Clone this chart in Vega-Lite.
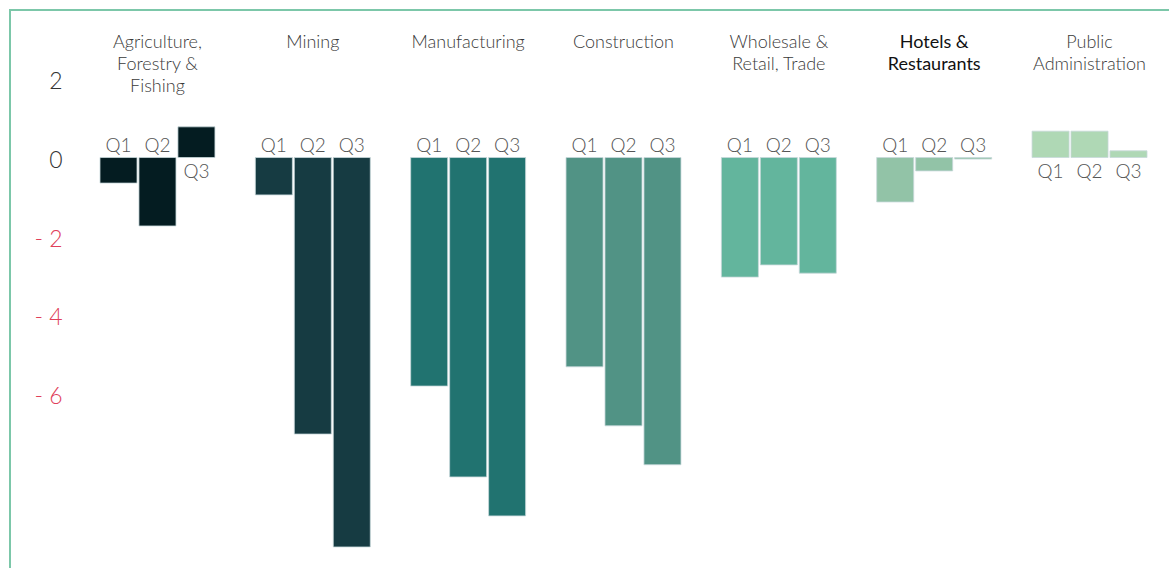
{
  "$schema": "https://vega.github.io/schema/vega-lite/v6.json",
  "width": 1160,
  "height": 559,
  "autosize": {"type": "none"},
  "padding": {"left": 10, "top": 10, "right": 0, "bottom": 0},
  "background": "white",
  "config": {
    "view": {"stroke": "#7cc7a9", "strokeWidth": 2},
    "font": "Lato"
  },
  "datasets": {
    "bars": [
      {"category": "Agriculture", "quarter": "Q1", "value": -0.65},
      {"category": "Agriculture", "quarter": "Q2", "value": -1.74},
      {"category": "Agriculture", "quarter": "Q3", "value": 0.78},
      {"category": "Mining", "quarter": "Q1", "value": -0.95},
      {"category": "Mining", "quarter": "Q2", "value": -7.03},
      {"category": "Mining", "quarter": "Q3", "value": -9.9},
      {"category": "Manufacturing", "quarter": "Q1", "value": -5.81},
      {"category": "Manufacturing", "quarter": "Q2", "value": -8.12},
      {"category": "Manufacturing", "quarter": "Q3", "value": -9.11},
      {"category": "Construction", "quarter": "Q1", "value": -5.32},
      {"category": "Construction", "quarter": "Q2", "value": -6.82},
      {"category": "Construction", "quarter": "Q3", "value": -7.81},
      {"category": "Wholesale", "quarter": "Q1", "value": -3.04},
      {"category": "Wholesale", "quarter": "Q2", "value": -2.73},
      {"category": "Wholesale", "quarter": "Q3", "value": -2.94},
      {"category": "Hotels", "quarter": "Q1", "value": -1.13},
      {"category": "Hotels", "quarter": "Q2", "value": -0.34},
      {"category": "Hotels", "quarter": "Q3", "value": -0.04},
      {"category": "Public", "quarter": "Q1", "value": 0.67},
      {"category": "Public", "quarter": "Q2", "value": 0.67},
      {"category": "Public", "quarter": "Q3", "value": 0.17}
    ],
    "cats": [
      {"category": "Agriculture", "label": "Agriculture,\nForestry &\nFishing", "highlight": false},
      {"category": "Mining", "label": "Mining", "highlight": false},
      {"category": "Manufacturing", "label": "Manufacturing", "highlight": false},
      {"category": "Construction", "label": "Construction", "highlight": false},
      {"category": "Wholesale", "label": "Wholesale &\nRetail, Trade", "highlight": false},
      {"category": "Hotels", "label": "Hotels &\nRestaurants", "highlight": true},
      {"category": "Public", "label": "Public\nAdministration", "highlight": false}
    ]
  },
  "encoding": {
    "x": {
      "field": "category",
      "type": "nominal",
      "sort": null,
      "scale": {"domain": ["Agriculture", "Mining", "Manufacturing", "Construction", "Wholesale", "Hotels", "Public"], "range": [90, 1137], "paddingInner": 0.26, "paddingOuter": 0},
      "axis": null
    }
  },
  "layer": [
    {
      "data": {"name": "bars"},
      "mark": {"type": "bar", "stroke": "#c8d8da", "strokeWidth": 0.8},
      "encoding": {
        "xOffset": {"field": "quarter", "type": "nominal", "scale": {"paddingInner": 0.05, "paddingOuter": 0}},
        "y": {
          "field": "value",
          "type": "quantitative",
          "scale": {"domain": [-10.46, 3.75], "nice": false, "zero": false},
          "axis": {
            "orient": "left",
            "offset": -52,
            "values": [2, 0, -2, -4, -6],
            "domain": false,
            "ticks": false,
            "grid": false,
            "labelPadding": 0,
            "labelOffset": 3,
            "labelFontSize": 23,
            "labelFont": "Lato",
            "labelFontWeight": 300,
            "labelExpr": "datum.value < 0 ? '- ' + abs(datum.value) : datum.label",
            "labelColor": {"condition": {"test": "datum.value < 0", "value": "#e0405a"}, "value": "#333333"},
            "title": null
          }
        },
        "y2": {"datum": 0},
        "color": {
          "field": "category",
          "type": "nominal",
          "scale": {"domain": ["Agriculture", "Mining", "Manufacturing", "Construction", "Wholesale", "Hotels", "Public"], "range": ["#041c21", "#163b42", "#217370", "#519385", "#63b59d", "#92c3a7", "#afd8b5"]},
          "legend": null
        }
      }
    },
    {
      "data": {"name": "bars"},
      "transform": [{"filter": "datum.value <= 0"}],
      "mark": {"type": "text", "baseline": "alphabetic", "dy": -6, "fontSize": 19, "fontWeight": 300, "color": "#555555"},
      "encoding": {
        "xOffset": {"field": "quarter", "type": "nominal", "scale": {"paddingInner": 0.05, "paddingOuter": 0}},
        "y": {"datum": 0, "type": "quantitative"},
        "text": {"field": "quarter"}
      }
    },
    {
      "data": {"name": "bars"},
      "transform": [{"filter": "datum.value > 0"}],
      "mark": {"type": "text", "baseline": "top", "dy": 5, "fontSize": 19, "fontWeight": 300, "color": "#555555"},
      "encoding": {
        "xOffset": {"field": "quarter", "type": "nominal", "scale": {"paddingInner": 0.05, "paddingOuter": 0}},
        "y": {"datum": 0, "type": "quantitative"},
        "text": {"field": "quarter"}
      }
    },
    {
      "data": {"name": "cats"},
      "transform": [{"filter": "!datum.highlight"}],
      "mark": {"type": "text", "baseline": "top", "align": "center", "lineBreak": "\n", "lineHeight": 22, "fontSize": 18, "fontWeight": 300, "color": "#3a3a3a"},
      "encoding": {
        "y": {"datum": 3.14, "type": "quantitative"},
        "text": {"field": "label"}
      }
    },
    {
      "data": {"name": "cats"},
      "transform": [{"filter": "datum.highlight"}],
      "mark": {"type": "text", "baseline": "top", "align": "center", "lineBreak": "\n", "lineHeight": 22, "fontSize": 18, "fontWeight": 400, "color": "#111111"},
      "encoding": {
        "y": {"datum": 3.14, "type": "quantitative"},
        "text": {"field": "label"}
      }
    }
  ]
}
